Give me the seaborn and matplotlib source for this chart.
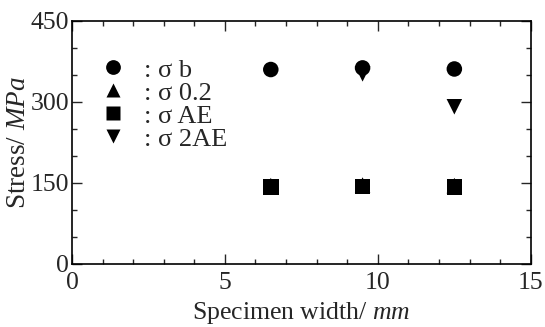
import pandas as pd
import matplotlib.pyplot as plt
import seaborn as sns
from matplotlib.ticker import MultipleLocator

width = [6.5, 9.5, 12.5]
sigma_b = [360, 363, 361]
sigma_02 = [145, 146, 145]
sigma_ae = [142, 143, 142]
sigma_2ae = [142, 352, 291]

series_names = [': σ b', ': σ 0.2', ': σ AE', ': σ 2AE']
series_values = [sigma_b, sigma_02, sigma_ae, sigma_2ae]
marker_map = dict(zip(series_names, ['o', '^', 's', 'v']))

rows = []
for name, values in zip(series_names, series_values):
    for w, v in zip(width, values):
        rows.append({'width': w, 'stress': v, 'series': name})
df = pd.DataFrame(rows)

sns.set_style('ticks')
plt.rcParams['font.family'] = ['Liberation Serif', 'DejaVu Serif']
plt.rcParams['mathtext.fontset'] = 'custom'
plt.rcParams['mathtext.it'] = 'Liberation Serif:italic'
plt.rcParams['mathtext.rm'] = 'Liberation Serif'

fig = plt.figure(figsize=(5.45, 3.27), dpi=100)
ax = fig.add_axes([0.132, 0.193, 0.842, 0.743])

sns.scatterplot(data=df, x='width', y='stress', style='series', markers=marker_map,
                color='black', s=125, edgecolor='none', ax=ax, legend=True)

ax.set_xlim(0, 15)
ax.set_ylim(0, 450)
ax.xaxis.set_major_locator(MultipleLocator(5))
ax.xaxis.set_minor_locator(MultipleLocator(1))
ax.yaxis.set_major_locator(MultipleLocator(150))
ax.yaxis.set_minor_locator(MultipleLocator(50))
ax.tick_params(which='both', direction='in', top=True, right=True, labelsize=18.5, width=1, pad=2)
ax.tick_params(axis='x', which='both', pad=6)
ax.tick_params(which='major', length=7)
ax.tick_params(which='minor', length=3.5)
for spine in ax.spines.values():
    spine.set_linewidth(1.2)
    spine.set_color('black')

ax.set_xlabel('Specimen width/ $\\mathit{mm}$', fontsize=18.5, labelpad=4)
ax.set_ylabel('Stress/ $\\mathit{MPa}$', fontsize=19.5, labelpad=0)

leg = ax.legend(loc='upper left', bbox_to_anchor=(0.01, 0.89), frameon=False, fontsize=19,
                handletextpad=0.15, labelspacing=-0.02, borderaxespad=0, markerscale=0.95)

plt.savefig('out.png', dpi=100)
